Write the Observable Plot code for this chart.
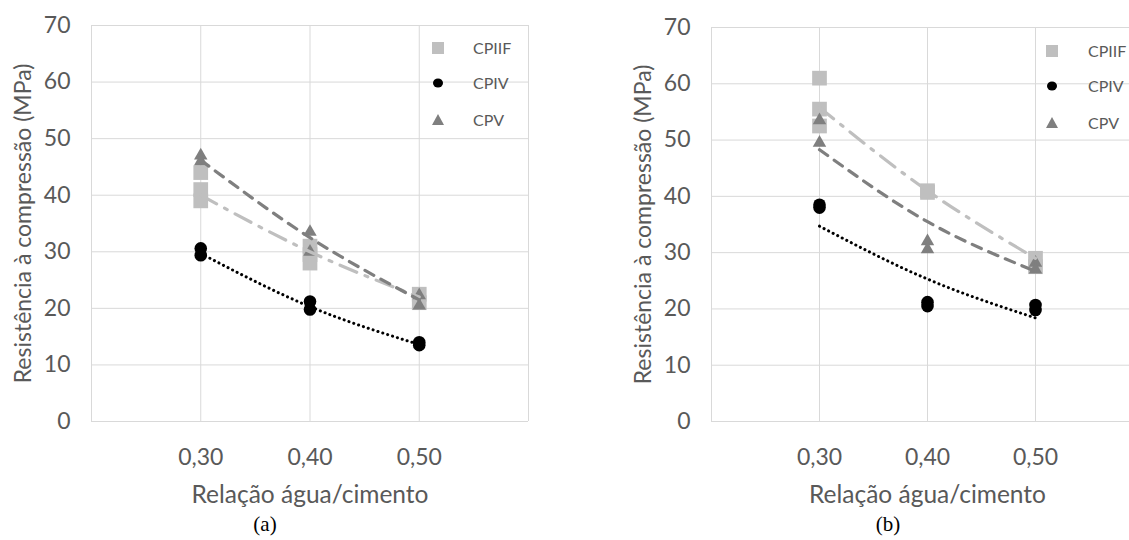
<!DOCTYPE html>
<html><head><meta charset="utf-8">
<script src="https://cdn.jsdelivr.net/npm/d3@7"></script>
<script src="https://cdn.jsdelivr.net/npm/@observablehq/plot@0.6"></script>
<style>
body{margin:0;background:#fff;}
#wrap{position:relative;width:1129px;height:540px;overflow:hidden;font-family:Lato,sans-serif;background:#fff;}
.panel{position:absolute;top:0;width:560px;height:540px;}
.panel svg{max-width:none !important;}
.legend{position:absolute;left:0;top:0;font:16px Lato,sans-serif;color:#595959;}
.legend .sym{position:absolute;}
.legend .lab{position:absolute;white-space:nowrap;line-height:20px;height:20px;}
.cap{position:absolute;font:21px "Liberation Serif",serif;color:#000;transform:translateX(-50%);white-space:nowrap;}
</style></head><body><div id="wrap"></div>
<script>
// ---- data ----
const seriesNames = ["CPIIF", "CPIV", "CPV"];
const ratioTicks = [0.30, 0.40, 0.50];
const ratioTickLabels = ["0,30", "0,40", "0,50"];
const gridRatios = [0.20, 0.30, 0.40, 0.50, 0.60];
const strengthTicks = [0, 10, 20, 30, 40, 50, 60, 70];
const panelCaptions = ["(a)", "(b)"];
const xTitle = "Relação água/cimento";
const yTitle = "Resistência à compressão (MPa)";

// panel (a) measured points
const aCPIIF_x = [0.30, 0.30, 0.30, 0.40, 0.40, 0.40, 0.50, 0.50];
const aCPIIF_y = [44, 41, 39, 31, 29.5, 28, 22.5, 21];
const aCPIV_x = [0.30, 0.30, 0.40, 0.40, 0.50, 0.50];
const aCPIV_y = [30.6, 29.4, 21.2, 19.8, 14, 13.5];
const aCPV_x = [0.30, 0.30, 0.40, 0.40, 0.50, 0.50];
const aCPV_y = [47, 46, 33.5, 30, 22.3, 20.5];
// panel (a) trend lines (read at 0.30 / 0.40 / 0.50)
const aTrendCPIIF = [40, 30, 22];
const aTrendCPIV = [29.7, 20.3, 13.6];
const aTrendCPV = [46.2, 32.5, 21.5];

// panel (b) measured points
const bCPIIF_x = [0.30, 0.30, 0.30, 0.40, 0.40, 0.50, 0.50];
const bCPIIF_y = [61, 55.5, 52.5, 41, 40.7, 29, 27.5];
const bCPIV_x = [0.30, 0.30, 0.40, 0.40, 0.50, 0.50];
const bCPIV_y = [38.5, 38, 21.2, 20.5, 20.7, 19.8];
const bCPV_x = [0.30, 0.30, 0.40, 0.40, 0.50, 0.50];
const bCPV_y = [53.5, 49.5, 32, 30.6, 28.2, 27];
// panel (b) trend lines
const bTrendCPIIF = [55.8, 41, 29];
const bTrendCPIV = [34.7, 25.3, 18.4];
const bTrendCPV = [48.3, 35.5, 26.7];

// ---- styles ----
const colors = {CPIIF: "#bfbfbf", CPIV: "#000000", CPV: "#7f7f7f"};

function pts(xs, ys) { return xs.map((x, i) => ({x, y: ys[i]})); }
function trend(ys) { return ratioTicks.map((x, i) => ({x, y: ys[i]})); }

function makePanel(p) {
  return Plot.plot({
    width: 560, height: 540,
    marginLeft: p.ml, marginRight: p.mr, marginTop: p.mt, marginBottom: 540 - p.bottom,
    style: {fontFamily: "Lato, sans-serif", background: "transparent", overflow: "visible", maxWidth: "none"},
    x: {domain: [0.2, 0.6]},
    y: {domain: [0, 70]},
    marks: [
      Plot.gridY(strengthTicks, {stroke: "#d9d9d9", strokeOpacity: 1, strokeWidth: 1}),
      Plot.gridX(gridRatios, {stroke: "#d9d9d9", strokeOpacity: 1, strokeWidth: 1}),
      Plot.dot(pts(p.iif[0], p.iif[1]), {x: "x", y: "y", symbol: "square", r: 8.3, fill: colors.CPIIF}),
      Plot.dot(pts(p.iv[0], p.iv[1]), {x: "x", y: "y", r: 6.3, fill: colors.CPIV}),
      Plot.dot(pts(p.v[0], p.v[1]), {x: "x", y: "y", symbol: "triangle", r: 5, fill: colors.CPV}),
      Plot.line(trend(p.tIIF), {x: "x", y: "y", curve: "natural", stroke: colors.CPIIF, strokeWidth: 3.2, strokeDasharray: "18,9,3,9"}),
      Plot.line(trend(p.tV), {x: "x", y: "y", curve: "natural", stroke: colors.CPV, strokeWidth: 3.2, strokeDasharray: "10,8"}),
      Plot.line(trend(p.tIV), {x: "x", y: "y", curve: "natural", stroke: colors.CPIV, strokeWidth: 3, strokeDasharray: "0.1,5", strokeLinecap: "round"}),
      Plot.axisY(strengthTicks, {tickSize: 0, tickPadding: 21, fontSize: 23, color: "#595959", label: null}),
      Plot.axisX(ratioTicks, {tickSize: 0, tickPadding: 27, fontSize: 23, color: "#595959",
        tickFormat: (d, i) => ratioTickLabels[i], label: null}),
      Plot.text([yTitle], {frameAnchor: "left", rotate: -90, dx: -68, fontSize: 23, fill: "#595959", lineAnchor: "middle", textAnchor: "middle"}),
      Plot.text([xTitle], {frameAnchor: "bottom", dy: 74, fontSize: 24.5, fill: "#595959", lineAnchor: "middle", textAnchor: "middle"})
    ]
  });
}

const wrap = document.getElementById("wrap");
const panels = [
  {left: 0, ml: 91, mr: 32, mt: 25, bottom: 421,
   iif: [aCPIIF_x, aCPIIF_y], iv: [aCPIV_x, aCPIV_y], v: [aCPV_x, aCPV_y],
   tIIF: aTrendCPIIF, tIV: aTrendCPIV, tV: aTrendCPV,
   leg: {sx: 438, tx: 473, ys: [48, 83, 120]}, cap: 265},
  {left: 600, ml: 111, mr: 17, mt: 27, bottom: 421,
   iif: [bCPIIF_x, bCPIIF_y], iv: [bCPIV_x, bCPIV_y], v: [bCPV_x, bCPV_y],
   tIIF: bTrendCPIIF, tIV: bTrendCPIV, tV: bTrendCPV,
   leg: {sx: 1052, tx: 1088, ys: [51, 86, 123]}, cap: 888}
];

panels.forEach((p, k) => {
  const div = document.createElement("div");
  div.className = "panel";
  div.style.left = p.left + "px";
  div.appendChild(makePanel(p));
  wrap.appendChild(div);

  // legend
  const leg = document.createElement("div");
  leg.className = "legend";
  seriesNames.forEach((name, i) => {
    const cy = p.leg.ys[i];
    const s = d3.create("svg").attr("class", "sym").attr("width", 16).attr("height", 16)
      .style("left", (p.leg.sx - 8) + "px").style("top", (cy - 8) + "px");
    if (name === "CPIIF") s.append("rect").attr("x", 2).attr("y", 2).attr("width", 12).attr("height", 12).attr("fill", colors.CPIIF);
    else if (name === "CPIV") s.append("ellipse").attr("cx", 8).attr("cy", 8).attr("rx", 5).attr("ry", 4.5).attr("fill", colors.CPIV);
    else s.append("path").attr("d", "M8,2 L14,13 L2,13 Z").attr("fill", colors.CPV);
    leg.appendChild(s.node());
    const t = document.createElement("div");
    t.className = "lab";
    t.textContent = name;
    t.style.left = p.leg.tx + "px";
    t.style.top = (cy - 10) + "px";
    leg.appendChild(t);
  });
  wrap.appendChild(leg);

  const cap = document.createElement("div");
  cap.className = "cap";
  cap.textContent = panelCaptions[k];
  cap.style.left = p.cap + "px";
  cap.style.top = "512px";
  wrap.appendChild(cap);
});
</script></body></html>
